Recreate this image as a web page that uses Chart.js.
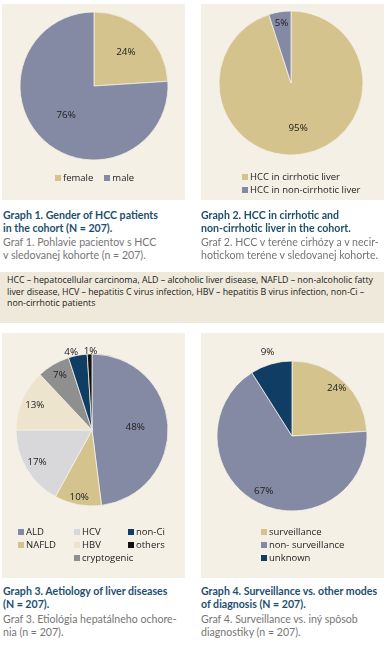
<!DOCTYPE html>
<html><head><meta charset="utf-8">
<script src="https://cdn.jsdelivr.net/npm/chart.js@4"></script>
<style>
body{margin:0;width:387px;height:645px;background:#fff;position:relative;overflow:hidden;font-family:"Open Sans",sans-serif}
.panel{position:absolute;background:#f4f0e6}
.cw{position:absolute}
.cap{position:absolute;font-family:Lato,sans-serif;font-size:10.6px;line-height:13.3px;white-space:nowrap}
.cap .b{color:#1e4f6e;font-weight:bold}
.cap .g{color:#767676;margin-top:1px}
.leg{position:absolute;font-size:9.5px;color:#222;white-space:nowrap}
.item{display:flex;align-items:center;height:13px}
.sw{display:inline-block;flex:0 0 6px;width:6px;height:6px;margin-right:2px}
.abbr{position:absolute;left:0;top:272px;width:384px;height:51px;background:#efe9db;font-size:8.8px;line-height:11.5px;color:#1a1a1a;box-sizing:border-box;padding:3px 0 0 7px;white-space:nowrap}
</style></head><body>
<div class="panel" style="left:2px;top:4px;width:183px;height:196px"></div>
<div class="panel" style="left:201px;top:4px;width:183px;height:196px"></div>
<div class="panel" style="left:2px;top:333px;width:183px;height:245px"></div>
<div class="panel" style="left:201px;top:333px;width:183px;height:245px"></div>

<div class="cw" id="w1"><canvas id="c1"></canvas></div>
<div class="cw" id="w2"><canvas id="c2"></canvas></div>
<div class="cw" id="w3"><canvas id="c3"></canvas></div>
<div class="cw" id="w4"><canvas id="c4"></canvas></div>

<div class="leg" id="l1" style="left:55px;top:171px;display:flex;gap:11px"></div>
<div class="leg" id="l2" style="left:242px;top:170px"></div>
<div class="leg" id="l3" style="left:18px;top:525px;display:flex"></div>
<div class="leg" id="l4" style="left:261px;top:525px"></div>

<div class="cap" style="left:3px;top:208.5px"><div class="b">Graph 1. Gender of HCC patients<br>in the cohort (N = 207).</div><div class="g">Graf 1. Pohlavie pacientov s HCC<br>v sledovanej kohorte (n = 207).</div></div>
<div class="cap" style="left:201px;top:208.5px"><div class="b">Graph 2. HCC in cirrhotic and<br>non-cirrhotic liver in the cohort.</div><div class="g">Graf 2. HCC v teréne cirhózy a v necir-<br>hotickom teréne v sledovanej kohorte.</div></div>
<div class="abbr">HCC – hepatocellular carcinoma, ALD – alcoholic liver disease, NAFLD – non-alcoholic fatty<br>liver disease, HCV – hepatitis C virus infection, HBV – hepatitis B virus infection, non-Ci –<br>non-cirrhotic patients</div>
<div class="cap" style="left:3px;top:585px"><div class="b">Graph 3. Aetiology of liver diseases<br>(N = 207).</div><div class="g">Graf 3. Etiológia hepatálneho ochore-<br>nia (n = 207).</div></div>
<div class="cap" style="left:201px;top:585px"><div class="b">Graph 4. Surveillance vs. other modes<br>of diagnosis (N = 207).</div><div class="g">Graf 4. Surveillance vs. iný spôsob<br>diagnostiky (n = 207).</div></div>

<script>
// ---- data ----
const genderLabels = ['female', 'male'];
const genderValues = [24, 76];
const cirrhosisLabels = ['HCC in cirrhotic liver', 'HCC in non-cirrhotic liver'];
const cirrhosisValues = [95, 5];
const aetiologyLabels = ['ALD', 'NAFLD', 'HCV', 'HBV', 'cryptogenic', 'non-Ci', 'others'];
const aetiologyValues = [48, 10, 17, 13, 7, 4, 1];
const diagnosisLabels = ['surveillance', 'non- surveillance', 'unknown'];
const diagnosisValues = [24, 67, 9];

// ---- styles ----
const GOLD = '#d5c38d', SLATE = '#8489a4', NAVY = '#0f3d63';
const genderColors = [GOLD, SLATE];
const cirrhosisColors = [GOLD, SLATE];
const aetiologyColors = [SLATE, GOLD, '#d8d8da', '#ece4cc', '#8f8f8f', NAVY, '#111111'];
const diagnosisColors = [GOLD, SLATE, NAVY];

const pctLabels = {
  id: 'pctLabels',
  afterDatasetsDraw(chart, args, opts) {
    const ctx = chart.ctx;
    const meta = chart.getDatasetMeta(0);
    const data = chart.data.datasets[0].data;
    const nudges = opts.nudges || [];
    ctx.save();
    ctx.font = '9.8px "Open Sans"';
    ctx.fillStyle = '#222';
    ctx.textAlign = 'center';
    ctx.textBaseline = 'middle';
    meta.data.forEach((arc, i) => {
      const p = arc.getProps(['x', 'y', 'startAngle', 'endAngle', 'outerRadius'], true);
      const a = (p.startAngle + p.endAngle) / 2;
      const r = p.outerRadius * opts.factors[i];
      const n = nudges[i] || [0, 0];
      ctx.fillText(data[i] + '%', p.x + Math.cos(a) * r + n[0], p.y + Math.sin(a) * r + n[1]);
    });
    ctx.restore();
  }
};

function makePie(id, wrapId, cx, cy, radius, labels, values, colors, factors, nudges) {
  const S = 200;
  const w = document.getElementById(wrapId);
  w.style.left = (cx - S / 2) + 'px';
  w.style.top = (cy - S / 2) + 'px';
  w.style.width = S + 'px';
  w.style.height = S + 'px';
  new Chart(document.getElementById(id), {
    type: 'pie',
    data: { labels: labels, datasets: [{ data: values, backgroundColor: colors, borderColor: '#f4f0e6', borderWidth: 0.8, radius: radius }] },
    options: {
      responsive: true, maintainAspectRatio: false, animation: false,
      layout: { padding: 0 },
      plugins: { legend: { display: false }, tooltip: { enabled: false }, pctLabels: { factors: factors, nudges: nudges } }
    },
    plugins: [pctLabels]
  });
}

makePie('c1', 'w1', 94, 86, 74, genderLabels, genderValues, genderColors, [0.63, 0.55]);
makePie('c2', 'w2', 291, 83, 72, cirrhosisLabels, cirrhosisValues, cirrhosisColors, [0.63, 0.84]);
makePie('c3', 'w3', 92, 430, 76, aetiologyLabels, aetiologyValues, aetiologyColors,
  [0.57, 0.9, 0.84, 0.82, 0.83, 1.04, 1.04], [null, null, null, null, null, [-6, 0], [1, 0]]);
makePie('c4', 'w4', 292, 436, 75, diagnosisLabels, diagnosisValues, diagnosisColors, [0.87, 0.83, 1.17]);

function item(label, color) {
  const d = document.createElement('div');
  d.className = 'item';
  const s = document.createElement('span');
  s.className = 'sw';
  s.style.background = color;
  d.appendChild(s);
  d.appendChild(document.createTextNode(label));
  return d;
}
function fillLegend(id, labels, colors) {
  const el = document.getElementById(id);
  labels.forEach((l, i) => el.appendChild(item(l, colors[i])));
}
fillLegend('l1', genderLabels, genderColors);
fillLegend('l2', cirrhosisLabels, cirrhosisColors);
fillLegend('l4', diagnosisLabels, diagnosisColors);
// aetiology legend in three columns
const l3 = document.getElementById('l3');
const colGroups = [[0, 1], [2, 3, 4], [5, 6]];
const colWidths = [56, 54, 50];
colGroups.forEach((g, ci) => {
  const col = document.createElement('div');
  col.style.width = colWidths[ci] + 'px';
  g.forEach(i => col.appendChild(item(aetiologyLabels[i], aetiologyColors[i])));
  l3.appendChild(col);
});
</script>
</body></html>
